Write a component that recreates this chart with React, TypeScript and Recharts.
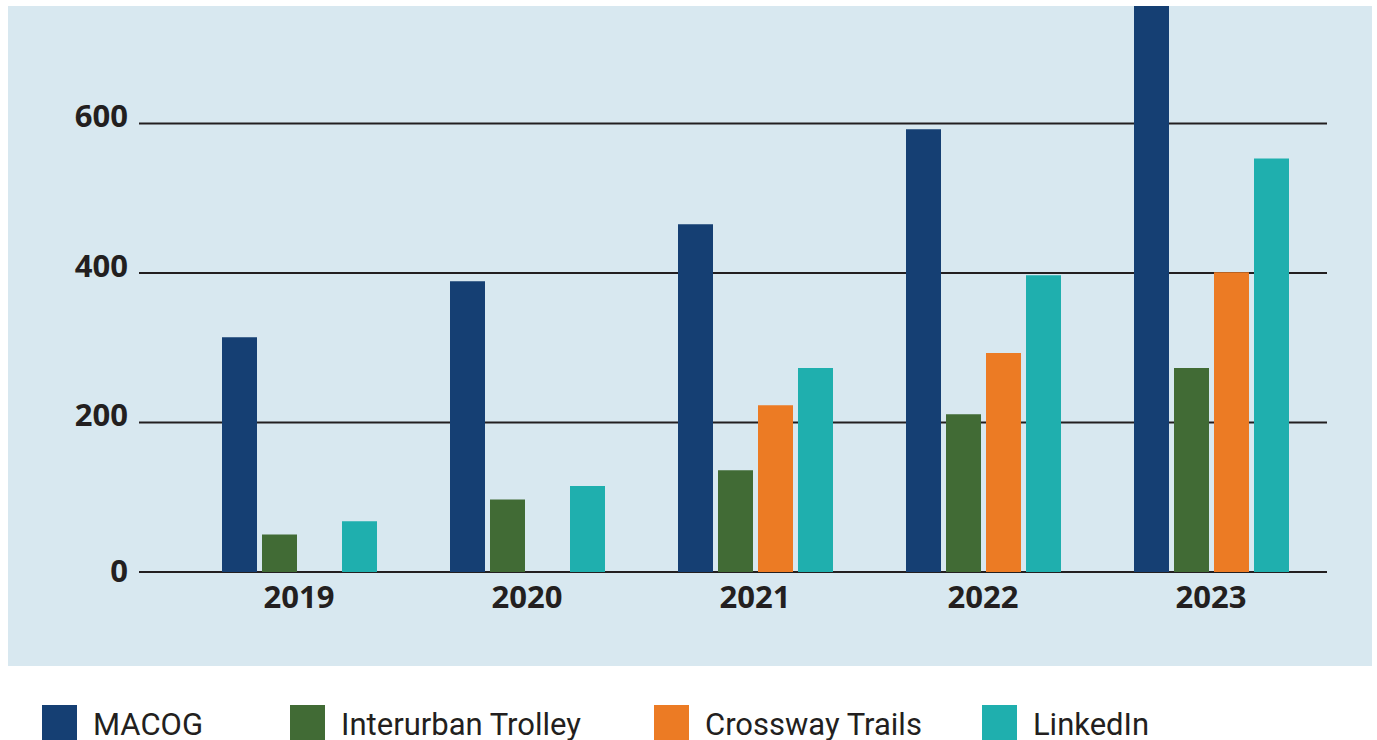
import React from "react";
import { BarChart, Bar, XAxis, YAxis, CartesianGrid, Legend } from "recharts";

// values (2023 MACOG runs past the top and is clipped)
const years = ["2019", "2020", "2021", "2022", "2023"];
const macog = [314, 389, 465, 592, 800];
const interurban = [50, 97, 136, 211, 273];
const crossway: (number | null)[] = [null, null, 223, 293, 401];
const linkedin = [68, 115, 273, 397, 553];
const yTicks = [0, 200, 400, 600];

const series = [
  { key: "macog", name: "MACOG", color: "#153f73" },
  { key: "interurban", name: "Interurban Trolley", color: "#416b35" },
  { key: "crossway", name: "Crossway Trails", color: "#ec7b24" },
  { key: "linkedin", name: "LinkedIn", color: "#1fafae" },
];

const data = years.map((year, i) => ({
  year,
  macog: macog[i],
  interurban: interurban[i],
  crossway: crossway[i],
  linkedin: linkedin[i],
}));

const ink = "#231f20";
const tickFont = "'Open Sans', sans-serif";

function YTick({ x, y, payload }: any) {
  // zero sits on the baseline, the others a little above their line
  const dy = payload.value === 0 ? 10 : 4;
  return (
    <text x={x} y={y + dy} textAnchor="end" fill={ink} fontFamily={tickFont} fontWeight={700} fontSize={31}>
      {payload.value}
    </text>
  );
}

function XTick({ x, y, payload }: any) {
  return (
    <text x={x} y={y + 36} textAnchor="middle" fill={ink} fontFamily={tickFont} fontWeight={700} fontSize={31}>
      {payload.value}
    </text>
  );
}

const legendGaps = [87, 73, 60, 0];

function LegendContent({ payload }: any) {
  const items = [...(payload || [])].sort(
    (a: any, b: any) =>
      series.findIndex((s) => s.name === a.value) - series.findIndex((s) => s.name === b.value)
  );
  return (
    <div style={{ display: "flex", alignItems: "flex-start" }}>
      {items.map((p: any, i: number) => (
        <div key={p.value} style={{ display: "flex", alignItems: "flex-start", marginRight: legendGaps[i] }}>
          <div style={{ width: 35, height: 35, background: p.color }} />
          <span
            style={{
              marginLeft: 16,
              fontFamily: "Roboto, sans-serif",
              fontSize: 31,
              lineHeight: "35px",
              paddingTop: 2,
              color: ink,
              whiteSpace: "nowrap",
            }}
          >
            {p.value}
          </span>
        </div>
      ))}
    </div>
  );
}

export default function App() {
  return (
    <div style={{ position: "absolute", left: 0, top: 0, width: 1377, height: 740, overflow: "hidden" }}>
      <div style={{ position: "absolute", left: 8, top: 6, width: 1364, height: 660, background: "#d8e8f0" }} />
      <div style={{ position: "absolute", left: 0, top: 0 }}>
        <BarChart
          width={1377}
          height={740}
          data={data}
          margin={{ top: 6, right: 50, left: 0, bottom: 128 }}
          barSize={35}
          barGap={5}
        >
          <CartesianGrid vertical={false} horizontalValues={yTicks} stroke={ink} strokeWidth={2} />
          <XAxis
            dataKey="year"
            axisLine={false}
            tickLine={false}
            tickSize={0}
            tickMargin={0}
            height={40}
            padding={{ left: 46, right: 2 }}
            tick={<XTick />}
          />
          <YAxis
            domain={[0, 757]}
            ticks={yTicks}
            allowDataOverflow
            axisLine={false}
            tickLine={false}
            tickSize={0}
            tickMargin={11}
            width={139}
            tick={<YTick />}
          />
          <Legend
            layout="horizontal"
            verticalAlign="middle"
            align="center"
            itemSorter={null as any}
            content={<LegendContent />}
            wrapperStyle={{ left: 42, top: 705, width: "auto" }}
          />
          {series.map((s) => (
            <Bar key={s.key} dataKey={s.key} name={s.name} fill={s.color} isAnimationActive={false} />
          ))}
        </BarChart>
      </div>
    </div>
  );
}
